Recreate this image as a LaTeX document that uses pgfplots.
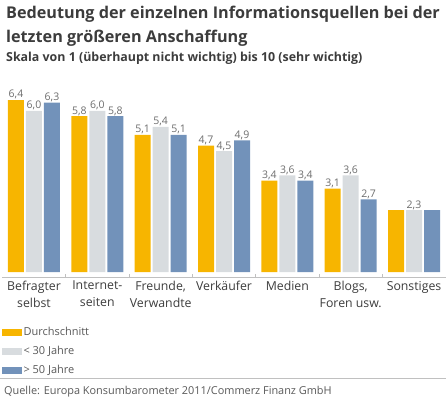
\documentclass[border=0pt]{standalone}
\usepackage{pgfplots}
\pgfplotsset{compat=1.18}
\usepackage{fontspec}
\setmainfont{Open Sans}
\definecolor{cA}{HTML}{F7B500}
\definecolor{cB}{HTML}{D8DCDF}
\definecolor{cC}{HTML}{7292BA}
\definecolor{tx}{HTML}{3C3C3C}
\definecolor{lg}{HTML}{C0C0C0}
\pgfplotsset{rectleg/.style={legend image code/.code={\fill[##1] (0pt,-3.5pt) rectangle (20pt,3.5pt);}}}
\begin{document}
\begin{tikzpicture}[x=1pt,y=1pt]
\useasboundingbox (0,0) rectangle (446,400);
\node[anchor=west,inner sep=0pt,font=\fontsize{16.2}{18}\selectfont\bfseries,text=tx] at (6,386) {Bedeutung der einzelnen Informationsquellen bei der};
\node[anchor=west,inner sep=0pt,font=\fontsize{16.2}{18}\selectfont\bfseries,text=tx] at (6,362) {letzten größeren Anschaffung};
\node[anchor=west,inner sep=0pt,font=\fontsize{12.4}{14}\selectfont\bfseries,text=tx] at (6,342) {Skala von 1 (überhaupt nicht wichtig) bis 10 (sehr wichtig)};
\begin{axis}[
  at={(2.3pt,123pt)}, anchor=south west,
  scale only axis, width=443.4pt, height=177pt,
  xmin=-0.5, xmax=6.5, ymin=-0.186, ymax=6.4,
  ybar=2pt, bar width=16pt,
  axis x line*=bottom, axis y line=none,
  x axis line style={draw=lg, line width=0.8pt, -},
  xtick align=inside,
  xtick={0,...,6},
  xticklabels={{Befragter\\selbst},{Internet-\\seiten},{Freunde,\\Verwandte},{Verkäufer},{Medien},{Blogs,\\Foren usw.},{Sonstiges}},
  xticklabel style={align=center, font=\fontsize{12.3}{17}\selectfont, text=tx, inner sep=0pt, yshift=-4pt},
  major tick length=0pt,
  tick style={draw=lg, line width=0.9pt},
  extra x ticks={0.5,1.5,...,5.5},
  extra x tick labels={},
  extra x tick style={major tick length=3pt},
  clip=false,
  point meta=explicit symbolic,
  nodes near coords,
  nodes near coords style={font=\fontsize{10.5}{11}\selectfont, text=tx!75, inner sep=0.5pt, anchor=south},
  legend style={draw=none, fill=none, at={(axis description cs:0,-0.278)}, anchor=north west, inner sep=0pt,
    nodes={inner sep=1pt, text height=8pt, text depth=2pt, font=\fontsize{11}{12}\selectfont, text=tx!85},
    row sep=7pt},
  legend cell align=left,
]
\addplot[fill=cA, draw=none, rectleg] coordinates {
(0,6.4) [6,4] (1,5.8) [5,8] (2,5.1) [5,1] (3,4.7) [4,7] (4,3.4) [3,4] (5,3.1) [3,1] (6,2.3) []};
\addplot[fill=cB, draw=none, rectleg] coordinates {
(0,6.0) [6,0] (1,6.0) [6,0] (2,5.4) [5,4] (3,4.5) [4,5] (4,3.6) [3,6] (5,3.6) [3,6] (6,2.3) [2,3]};
\addplot[fill=cC, draw=none, rectleg] coordinates {
(0,6.3) [6,3] (1,5.8) [5,8] (2,5.1) [5,1] (3,4.9) [4,9] (4,3.4) [3,4] (5,2.7) [2,7] (6,2.3) []};
\legend{Durchschnitt, {< 30 Jahre}, {> 50 Jahre}}
\end{axis}
\draw[lg, line width=0.8pt] (0,22) -- (446,22);
\node[anchor=west,inner sep=0pt,font=\fontsize{10.9}{12}\selectfont,text=tx!85] at (4,8) {Quelle: Europa Konsumbarometer 2011/Commerz Finanz GmbH};
\end{tikzpicture}
\end{document}
